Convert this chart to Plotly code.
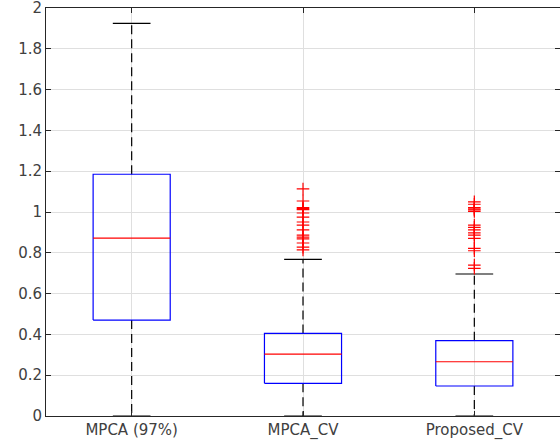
import plotly.graph_objects as go

categories = ["MPCA (97%)", "MPCA_CV", "Proposed_CV"]
q1 = [0.47, 0.16, 0.147]
median = [0.872, 0.303, 0.266]
q3 = [1.185, 0.405, 0.369]
lower_whisker = [0.0, 0.0, 0.0]
upper_whisker = [1.925, 0.768, 0.696]
outliers = [
    [],
    [1.113, 1.054, 1.022, 1.017, 1.012, 0.995, 0.975, 0.951, 0.936, 0.912, 0.887,
     0.877, 0.868, 0.848, 0.828, 0.814],
    [1.050, 1.038, 1.022, 1.015, 1.010, 1.003, 0.936, 0.925, 0.912, 0.898, 0.887,
     0.871, 0.822, 0.810, 0.740, 0.724],
]

box_half = 0.225
cap_half = 0.11

fig = go.Figure()
for i, name in enumerate(categories):
    x = i + 1
    # whiskers (dashed)
    fig.add_trace(go.Scatter(x=[x, x, None, x, x],
                             y=[q3[i], upper_whisker[i], None, q1[i], lower_whisker[i]],
                             mode="lines", line=dict(color="black", width=1.2, dash="9px,5px"),
                             hoverinfo="skip", showlegend=False))
    # caps
    fig.add_trace(go.Scatter(x=[x - cap_half, x + cap_half, None, x - cap_half, x + cap_half],
                             y=[upper_whisker[i], upper_whisker[i], None, lower_whisker[i], lower_whisker[i]],
                             mode="lines", line=dict(color="black", width=1.2),
                             hoverinfo="skip", showlegend=False))
    # box
    fig.add_trace(go.Scatter(x=[x - box_half, x + box_half, x + box_half, x - box_half, x - box_half],
                             y=[q1[i], q1[i], q3[i], q3[i], q1[i]],
                             mode="lines", line=dict(color="blue", width=1.2),
                             hoverinfo="skip", showlegend=False))
    # median
    fig.add_trace(go.Scatter(x=[x - box_half, x + box_half], y=[median[i], median[i]],
                             mode="lines", line=dict(color="red", width=1.2),
                             hoverinfo="skip", showlegend=False))
    # outliers
    if outliers[i]:
        fig.add_trace(go.Scatter(x=[x] * len(outliers[i]), y=outliers[i], mode="markers",
                                 marker=dict(symbol="cross-thin", size=9,
                                             line=dict(color="red", width=1.2), color="red"),
                                 showlegend=False))

axis_common = dict(showline=True, linecolor="#262626", linewidth=1, mirror="allticks",
                   ticks="inside", ticklen=5, tickcolor="#262626",
                   showgrid=True, gridcolor="#dfdfdf", gridwidth=1, zeroline=False,
                   ticklabeloverflow="allow",
                   tickfont=dict(family="DejaVu Sans", size=15, color="#404040"))

fig.update_xaxes(range=[0.5, 3.5], tickvals=[1, 2, 3], ticktext=categories, **axis_common)
fig.update_yaxes(range=[0, 2], tickvals=[0, 0.2, 0.4, 0.6, 0.8, 1, 1.2, 1.4, 1.6, 1.8, 2],
                 ticktext=["0", "0.2", "0.4", "0.6", "0.8", "1", "1.2", "1.4", "1.6", "1.8", "2"],
                 **axis_common)
fig.update_layout(width=560, height=447, margin=dict(l=46, r=0, t=8, b=31),
                  plot_bgcolor="white", paper_bgcolor="white")
fig.write_html("out.html")
